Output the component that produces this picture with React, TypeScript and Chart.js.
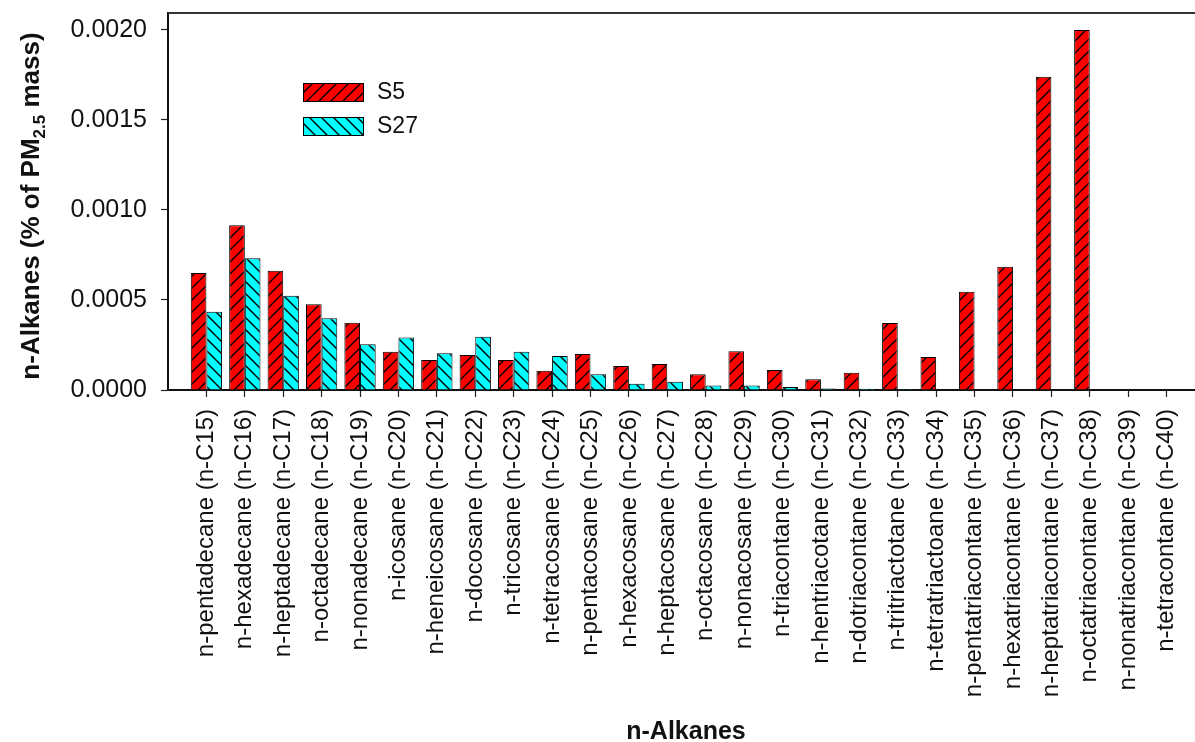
import React, { useEffect, useRef } from "react";
import { Chart, registerables } from "chart.js";

Chart.register(...registerables);

const categories = [
  "n-pentadecane (n-C15)",
  "n-hexadecane (n-C16)",
  "n-heptadecane (n-C17)",
  "n-octadecane (n-C18)",
  "n-nonadecane (n-C19)",
  "n-icosane (n-C20)",
  "n-heneicosane (n-C21)",
  "n-docosane (n-C22)",
  "n-tricosane (n-C23)",
  "n-tetracosane (n-C24)",
  "n-pentacosane (n-C25)",
  "n-hexacosane (n-C26)",
  "n-heptacosane (n-C27)",
  "n-octacosane (n-C28)",
  "n-nonacosane (n-C29)",
  "n-triacontane (n-C30)",
  "n-hentriacotane (n-C31)",
  "n-dotriacontane (n-C32)",
  "n-tritriactotane (n-C33)",
  "n-tetratriactoane (n-C34)",
  "n-pentatriacontane (n-C35)",
  "n-hexatriacontane (n-C36)",
  "n-heptatriacontane (n-C37)",
  "n-octatriacontane (n-C38)",
  "n-nonatriacontane (n-C39)",
  "n-tetracontane (n-C40)",
];

const s5Values = [
  0.00065, 0.000915, 0.000663, 0.000476, 0.000374, 0.000213, 0.000167, 0.000194,
  0.000167, 0.000107, 0.0002, 0.000133, 0.000144, 0.000087, 0.000215, 0.000111,
  0.00006, 0.000096, 0.000372, 0.000183, 0.000546, 0.000685, 0.00174, 0.002, 0, 0,
];

const s27Values = [
  0.000435, 0.000732, 0.000524, 0.000398, 0.000254, 0.000291, 0.000204, 0.000296,
  0.000213, 0.000189, 0.000088, 0.000035, 0.000046, 0.000025, 0.000025, 0.000016,
  0.000009, 0.000007, 0.000006, 0, 0, 0, 0, 0, 0, 0,
];

const seriesNames = ["S5", "S27"];
const yTicks = [0, 0.0005, 0.001, 0.0015, 0.002];
const yMax = 0.002094;
const yTitleParts = ["n-Alkanes (% of PM", "2.5", " mass)"];
const xTitle = "n-Alkanes";

const FONT = "'Liberation Sans', Arial, Helvetica, sans-serif";

function makePattern(color: string, forward: boolean): CanvasPattern | string {
  const s = 12;
  const c = document.createElement("canvas");
  c.width = s;
  c.height = s;
  const g = c.getContext("2d");
  if (!g) return color;
  g.fillStyle = color;
  g.fillRect(0, 0, s, s);
  g.strokeStyle = "#000";
  g.lineWidth = 1.4;
  g.beginPath();
  if (forward) {
    g.moveTo(0, s); g.lineTo(s, 0);
    g.moveTo(-2, 2); g.lineTo(2, -2);
    g.moveTo(s - 2, s + 2); g.lineTo(s + 2, s - 2);
  } else {
    g.moveTo(0, 0); g.lineTo(s, s);
    g.moveTo(-2, s - 2); g.lineTo(2, s + 2);
    g.moveTo(s - 2, -2); g.lineTo(s + 2, 2);
  }
  g.stroke();
  const p = g.createPattern(c, "repeat");
  return p || color;
}

export default function App() {
  const ref = useRef<HTMLCanvasElement | null>(null);

  useEffect(() => {
    const canvas = ref.current;
    if (!canvas) return;
    const redPat = makePattern("#ff0000", true);
    const cyanPat = makePattern("#00ffff", false);
    const labels = ["", ...categories, ""];

    const overlay = {
      id: "overlay",
      afterDraw(chart: any) {
        const ctx = chart.ctx;
        const a = chart.chartArea;
        ctx.save();
        ctx.strokeStyle = "#333";
        ctx.lineWidth = 2;
        ctx.beginPath();
        ctx.moveTo(a.left, a.top);
        ctx.lineTo(a.right, a.top);
        ctx.lineTo(a.right, a.bottom);
        ctx.stroke();

        const pats = [redPat, cyanPat];
        const boxes = [83, 117];
        ctx.font = `23px ${FONT}`;
        ctx.textBaseline = "middle";
        ctx.textAlign = "left";
        for (let i = 0; i < 2; i++) {
          const y = boxes[i];
          ctx.fillStyle = pats[i] as any;
          ctx.fillRect(303, y, 61, 19);
          ctx.strokeStyle = "#000";
          ctx.lineWidth = 1;
          ctx.strokeRect(303.5, y + 0.5, 60, 18);
          ctx.fillStyle = "#111";
          ctx.fillText(seriesNames[i], 377, y + 10);
        }

        ctx.translate(30, 206);
        ctx.rotate(-Math.PI / 2);
        const big = `bold 26px ${FONT}`;
        const small = `bold 17px ${FONT}`;
        ctx.font = big;
        const w0 = ctx.measureText(yTitleParts[0]).width;
        const w2 = ctx.measureText(yTitleParts[2]).width;
        ctx.font = small;
        const w1 = ctx.measureText(yTitleParts[1]).width;
        let x = -(w0 + w1 + w2) / 2;
        ctx.fillStyle = "#111";
        ctx.textBaseline = "alphabetic";
        ctx.font = big;
        ctx.fillText(yTitleParts[0], x, 9);
        x += w0;
        ctx.font = small;
        ctx.fillText(yTitleParts[1], x, 15);
        x += w1;
        ctx.font = big;
        ctx.fillText(yTitleParts[2], x, 9);
        ctx.restore();

        ctx.save();
        ctx.font = `bold 25px ${FONT}`;
        ctx.fillStyle = "#111";
        ctx.textAlign = "center";
        ctx.textBaseline = "middle";
        ctx.fillText(xTitle, 686, 732);
        ctx.restore();
      },
    };

    const chart = new Chart(canvas, {
      type: "bar",
      data: {
        labels,
        datasets: [
          {
            label: seriesNames[0],
            data: [null, ...s5Values, null],
            backgroundColor: redPat as any,
            borderColor: "#000",
            borderWidth: 1,
            categoryPercentage: 0.815,
            barPercentage: 1.0,
          },
          {
            label: seriesNames[1],
            data: [null, ...s27Values, null],
            backgroundColor: cyanPat as any,
            borderColor: "#000",
            borderWidth: 1,
            categoryPercentage: 0.815,
            barPercentage: 1.0,
          },
        ],
      },
      options: {
        animation: false,
        responsive: false,
        devicePixelRatio: 1,
        layout: { padding: { top: 13, right: 1, left: 0, bottom: 0 } },
        plugins: {
          legend: { display: false },
          tooltip: { enabled: false },
          title: { display: false },
        },
        scales: {
          x: {
            type: "category",
            offset: false,
            grid: {
              offset: false,
              drawOnChartArea: false,
              drawTicks: true,
              tickLength: 7,
              tickWidth: 1.2,
              tickColor: (ctx: any) =>
                ctx.index === 0 || ctx.index === labels.length - 1 ? "rgba(0,0,0,0)" : "#222",
            },
            border: { display: true, color: "#111", width: 2 },
            ticks: {
              autoSkip: false,
              maxRotation: 90,
              minRotation: 90,
              padding: 12,
              color: "#111",
              font: { size: 24, family: FONT },
            },
            afterFit: (s: any) => {
              s.height = 352;
              s.paddingLeft = 0;
              s.paddingRight = 0;
            },
          },
          y: {
            type: "linear",
            min: 0,
            max: yMax,
            afterBuildTicks: (s: any) => {
              s.ticks = yTicks.map((v) => ({ value: v }));
            },
            grid: {
              drawOnChartArea: false,
              drawTicks: true,
              tickLength: 7,
              tickWidth: 1.2,
              tickColor: "#222",
            },
            border: { display: true, color: "#111", width: 2 },
            ticks: {
              padding: 14,
              color: "#111",
              font: { size: 25, family: FONT },
              callback: (v: any) => Number(v).toFixed(4),
            },
            afterFit: (s: any) => {
              s.width = 168;
              s.paddingTop = 0;
              s.paddingBottom = 0;
            },
          },
        },
      },
      plugins: [overlay],
    });

    return () => chart.destroy();
  }, []);

  return (
    <div
      style={{
        position: "fixed",
        left: 0,
        top: 0,
        width: 1195,
        height: 742,
        overflow: "hidden",
        background: "#fff",
      }}
    >
      <canvas ref={ref} width={1206} height={742} style={{ width: 1206, height: 742, display: "block" }} />
    </div>
  );
}
